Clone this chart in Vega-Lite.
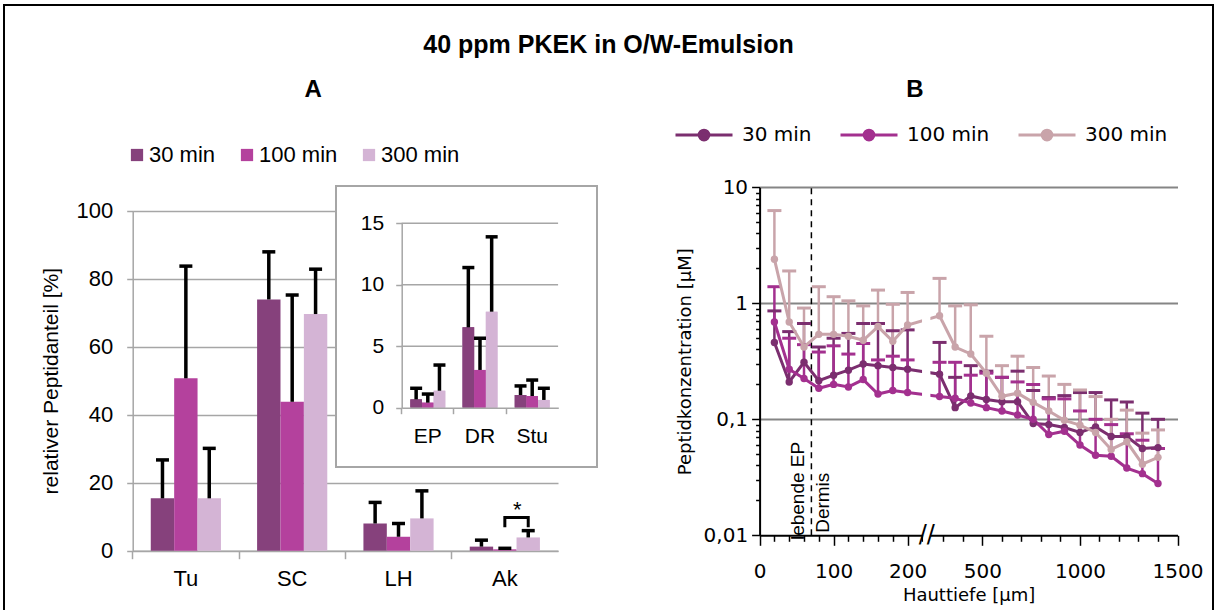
{
  "$schema": "https://vega.github.io/schema/vega-lite/v6.json",
  "width": 1209,
  "height": 610,
  "autosize": {"type": "none"},
  "padding": {"left": 4, "top": 5, "right": 4, "bottom": 0},
  "background": "white",
  "config": {
    "view": {"stroke": "black", "strokeWidth": 2},
    "font": "Liberation Sans",
    "axis": {"labelFont": "Liberation Sans", "titleFont": "Liberation Sans", "labelColor": "black", "titleColor": "black", "titleFontWeight": "normal", "labelOverlap": false, "labelFlush": false}
  },
  "title": {"text": "40 ppm PKEK in O/W-Emulsion", "font": "Liberation Sans", "fontSize": 25, "fontWeight": "bold", "color": "black", "anchor": "middle", "frame": "group", "offset": -53},
  "datasets": {
    "bars": [
      {"c": "Tu", "t": "30 min", "v": 15.4, "e": 26.7},
      {"c": "Tu", "t": "100 min", "v": 50.7, "e": 83.7},
      {"c": "Tu", "t": "300 min", "v": 15.4, "e": 30.1},
      {"c": "SC", "t": "30 min", "v": 73.9, "e": 87.9},
      {"c": "SC", "t": "100 min", "v": 43.8, "e": 75.2},
      {"c": "SC", "t": "300 min", "v": 69.6, "e": 82.8},
      {"c": "LH", "t": "30 min", "v": 8.0, "e": 14.2},
      {"c": "LH", "t": "100 min", "v": 4.1, "e": 8.0},
      {"c": "LH", "t": "300 min", "v": 9.5, "e": 17.6},
      {"c": "Ak", "t": "30 min", "v": 1.2, "e": 3.1},
      {"c": "Ak", "t": "100 min", "v": 0.4, "e": 0.7},
      {"c": "Ak", "t": "300 min", "v": 3.9, "e": 5.9}
    ],
    "inset": [
      {"c": "EP", "t": "30 min", "v": 0.68, "e": 1.58},
      {"c": "EP", "t": "100 min", "v": 0.41, "e": 1.11},
      {"c": "EP", "t": "300 min", "v": 1.38, "e": 3.47},
      {"c": "DR", "t": "30 min", "v": 6.54, "e": 11.4},
      {"c": "DR", "t": "100 min", "v": 3.07, "e": 5.65},
      {"c": "DR", "t": "300 min", "v": 7.81, "e": 13.9},
      {"c": "Stu", "t": "30 min", "v": 1.03, "e": 1.77},
      {"c": "Stu", "t": "100 min", "v": 0.95, "e": 2.25},
      {"c": "Stu", "t": "300 min", "v": 0.63, "e": 1.58}
    ],
    "profile": [
      {"d": 20, "t": "30 min", "v": 0.46, "e": 0.86},
      {"d": 40, "t": "30 min", "v": 0.21, "e": 0.57},
      {"d": 60, "t": "30 min", "v": 0.31, "e": 0.67},
      {"d": 80, "t": "30 min", "v": 0.215, "e": 0.42},
      {"d": 100, "t": "30 min", "v": 0.24, "e": 0.5},
      {"d": 120, "t": "30 min", "v": 0.265, "e": 0.55},
      {"d": 140, "t": "30 min", "v": 0.3, "e": 0.67},
      {"d": 160, "t": "30 min", "v": 0.29, "e": 0.67},
      {"d": 180, "t": "30 min", "v": 0.28, "e": 0.58},
      {"d": 200, "t": "30 min", "v": 0.27, "e": 0.59},
      {"d": 280, "t": "30 min", "v": 0.245, "e": 0.46},
      {"d": 360, "t": "30 min", "v": 0.126, "e": 0.23},
      {"d": 440, "t": "30 min", "v": 0.159, "e": 0.29},
      {"d": 520, "t": "30 min", "v": 0.148, "e": 0.26},
      {"d": 600, "t": "30 min", "v": 0.142, "e": 0.23},
      {"d": 680, "t": "30 min", "v": 0.142, "e": 0.26},
      {"d": 760, "t": "30 min", "v": 0.092, "e": 0.177},
      {"d": 840, "t": "30 min", "v": 0.09, "e": 0.154},
      {"d": 920, "t": "30 min", "v": 0.085, "e": 0.16},
      {"d": 1000, "t": "30 min", "v": 0.077, "e": 0.17},
      {"d": 1080, "t": "30 min", "v": 0.086, "e": 0.17},
      {"d": 1160, "t": "30 min", "v": 0.071, "e": 0.147},
      {"d": 1240, "t": "30 min", "v": 0.071, "e": 0.141},
      {"d": 1320, "t": "30 min", "v": 0.056, "e": 0.113},
      {"d": 1400, "t": "30 min", "v": 0.057, "e": 0.1},
      {"d": 20, "t": "100 min", "v": 0.69, "e": 1.39},
      {"d": 40, "t": "100 min", "v": 0.27, "e": 0.5},
      {"d": 60, "t": "100 min", "v": 0.225, "e": 0.44},
      {"d": 80, "t": "100 min", "v": 0.185, "e": 0.38},
      {"d": 100, "t": "100 min", "v": 0.2, "e": 0.43},
      {"d": 120, "t": "100 min", "v": 0.19, "e": 0.365},
      {"d": 140, "t": "100 min", "v": 0.22, "e": 0.45},
      {"d": 160, "t": "100 min", "v": 0.165, "e": 0.325},
      {"d": 180, "t": "100 min", "v": 0.177, "e": 0.35},
      {"d": 200, "t": "100 min", "v": 0.17, "e": 0.325},
      {"d": 280, "t": "100 min", "v": 0.157, "e": 0.31},
      {"d": 360, "t": "100 min", "v": 0.152, "e": 0.31},
      {"d": 440, "t": "100 min", "v": 0.138, "e": 0.24},
      {"d": 520, "t": "100 min", "v": 0.126, "e": 0.25},
      {"d": 600, "t": "100 min", "v": 0.118, "e": 0.23},
      {"d": 680, "t": "100 min", "v": 0.109, "e": 0.21},
      {"d": 760, "t": "100 min", "v": 0.1, "e": 0.2},
      {"d": 840, "t": "100 min", "v": 0.074, "e": 0.15},
      {"d": 920, "t": "100 min", "v": 0.079, "e": 0.15},
      {"d": 1000, "t": "100 min", "v": 0.06, "e": 0.118},
      {"d": 1080, "t": "100 min", "v": 0.049, "e": 0.1},
      {"d": 1160, "t": "100 min", "v": 0.048, "e": 0.09},
      {"d": 1240, "t": "100 min", "v": 0.038, "e": 0.075},
      {"d": 1320, "t": "100 min", "v": 0.034, "e": 0.066},
      {"d": 1400, "t": "100 min", "v": 0.028, "e": 0.056},
      {"d": 20, "t": "300 min", "v": 2.4, "e": 6.3},
      {"d": 40, "t": "300 min", "v": 0.69, "e": 1.9},
      {"d": 60, "t": "300 min", "v": 0.42, "e": 0.91},
      {"d": 80, "t": "300 min", "v": 0.54, "e": 1.39},
      {"d": 100, "t": "300 min", "v": 0.54, "e": 1.14},
      {"d": 120, "t": "300 min", "v": 0.52, "e": 1.05},
      {"d": 140, "t": "300 min", "v": 0.48, "e": 0.95},
      {"d": 160, "t": "300 min", "v": 0.63, "e": 1.3},
      {"d": 180, "t": "300 min", "v": 0.47, "e": 0.98},
      {"d": 200, "t": "300 min", "v": 0.65, "e": 1.24},
      {"d": 280, "t": "300 min", "v": 0.78, "e": 1.64},
      {"d": 360, "t": "300 min", "v": 0.42, "e": 0.95},
      {"d": 440, "t": "300 min", "v": 0.366, "e": 0.97},
      {"d": 520, "t": "300 min", "v": 0.25, "e": 0.52},
      {"d": 600, "t": "300 min", "v": 0.158, "e": 0.29},
      {"d": 680, "t": "300 min", "v": 0.168, "e": 0.35},
      {"d": 760, "t": "300 min", "v": 0.14, "e": 0.28},
      {"d": 840, "t": "300 min", "v": 0.118, "e": 0.236},
      {"d": 920, "t": "300 min", "v": 0.098, "e": 0.2},
      {"d": 1000, "t": "300 min", "v": 0.089, "e": 0.179},
      {"d": 1080, "t": "300 min", "v": 0.077, "e": 0.157},
      {"d": 1160, "t": "300 min", "v": 0.055, "e": 0.1},
      {"d": 1240, "t": "300 min", "v": 0.064, "e": 0.12},
      {"d": 1320, "t": "300 min", "v": 0.041, "e": 0.076},
      {"d": 1400, "t": "300 min", "v": 0.047, "e": 0.081}
    ]
  },
  "resolve": {"scale": {"x": "independent", "y": "independent", "color": "independent", "xOffset": "independent"}},
  "layer": [
    {
      "layer": [
        {
          "data": {"name": "bars"},
          "mark": {"type": "bar"},
          "encoding": {
            "x": {"field": "c", "type": "nominal", "sort": ["Tu", "SC", "LH", "Ak"],
              "scale": {"domain": ["Tu", "SC", "LH", "Ak"], "range": [128.7, 554], "paddingInner": 0.34, "paddingOuter": 0.17},
              "axis": {"orient": "bottom", "offset": -64.3, "bandPosition": -0.2576, "labelOffset": 0, "tickSize": 8, "tickColor": "#a6a6a6", "tickWidth": 1.5, "domainColor": "#a6a6a6", "domainWidth": 1.5, "labelFontSize": 22, "labelPadding": 10, "labelAngle": 0, "title": null, "grid": false}},
            "xOffset": {"field": "t", "type": "nominal", "sort": ["30 min", "100 min", "300 min"], "scale": {"domain": ["30 min", "100 min", "300 min"], "paddingInner": 0, "paddingOuter": 0}},
            "y": {"field": "v", "type": "quantitative",
              "scale": {"domain": [0, 100], "range": [545.7, 205.7], "nice": false},
              "axis": {"orient": "left", "offset": -128.7, "values": [0, 20, 40, 60, 80, 100], "grid": true, "gridColor": "#a6a6a6", "gridWidth": 1.5, "domainColor": "#a6a6a6", "domainWidth": 1.5, "tickColor": "#a6a6a6", "tickSize": 6, "tickWidth": 1.5, "labelFontSize": 22, "labelPadding": 14, "title": "relativer Peptidanteil [%]", "titleFontSize": 21, "titlePadding": 14}},
            "color": {"field": "t", "type": "nominal", "sort": ["30 min", "100 min", "300 min"],
              "scale": {"domain": ["30 min", "100 min", "300 min"], "range": ["#86417c", "#b4419d", "#d4b4d5"]},
              "legend": {"orient": "none", "legendX": 122, "legendY": 139, "direction": "horizontal", "title": null, "symbolType": "square", "symbolSize": 150, "symbolStrokeWidth": 0, "labelFont": "Liberation Sans", "labelFontSize": 22, "labelColor": "black", "labelOffset": 1, "columnPadding": 20}}
          }
        },
        {
          "data": {"name": "bars"},
          "mark": {"type": "rule", "color": "black", "strokeWidth": 3.5},
          "encoding": {
            "x": {"field": "c", "type": "nominal"},
            "xOffset": {"field": "t", "type": "nominal"},
            "y": {"field": "v", "type": "quantitative"},
            "y2": {"field": "e"}
          }
        },
        {
          "data": {"name": "bars"},
          "mark": {"type": "tick", "color": "black", "thickness": 3.5, "size": 13, "opacity": 1},
          "encoding": {
            "x": {"field": "c", "type": "nominal"},
            "xOffset": {"field": "t", "type": "nominal"},
            "y": {"field": "e", "type": "quantitative"}
          }
        },
        {
          "data": {"values": [
            {"c": "Ak", "t": "100 min", "y": 6.9, "o": 1},
            {"c": "Ak", "t": "100 min", "y": 9.8, "o": 2},
            {"c": "Ak", "t": "300 min", "y": 9.8, "o": 3},
            {"c": "Ak", "t": "300 min", "y": 6.9, "o": 4}
          ]},
          "mark": {"type": "line", "color": "black", "strokeWidth": 3},
          "encoding": {
            "x": {"field": "c", "type": "nominal"},
            "xOffset": {"field": "t", "type": "nominal"},
            "y": {"field": "y", "type": "quantitative"},
            "order": {"field": "o"}
          }
        },
        {
          "data": {"values": [{"c": "Ak", "t": "300 min", "y": 12.0, "s": "*"}]},
          "mark": {"type": "text", "fontSize": 22, "font": "Liberation Sans", "color": "black", "dx": -11, "baseline": "middle"},
          "encoding": {
            "x": {"field": "c", "type": "nominal"},
            "xOffset": {"field": "t", "type": "nominal"},
            "y": {"field": "y", "type": "quantitative"},
            "text": {"field": "s"}
          }
        },
        {
          "data": {"values": [{"c": "SC", "y": 135.5, "s": "A"}]},
          "mark": {"type": "text", "fontSize": 24, "fontWeight": "bold", "font": "Liberation Sans", "color": "black", "dx": 21, "baseline": "middle"},
          "encoding": {
            "x": {"field": "c", "type": "nominal"},
            "y": {"field": "y", "type": "quantitative"},
            "text": {"field": "s"}
          }
        }
      ]
    },
    {
      "data": {"values": [{"f": "frame"}]},
      "mark": {"type": "rect", "fill": "white", "stroke": "#a6a6a6", "strokeWidth": 2},
      "encoding": {
        "x": {"datum": 0, "type": "quantitative", "scale": {"domain": [0, 1], "range": [332, 593], "nice": false, "zero": false}, "axis": null},
        "x2": {"datum": 1},
        "y": {"datum": 0, "type": "quantitative", "scale": {"domain": [0, 1], "range": [462, 181], "nice": false, "zero": false}, "axis": null},
        "y2": {"datum": 1}
      }
    },
    {
      "layer": [
        {
          "data": {"name": "inset"},
          "mark": {"type": "bar"},
          "encoding": {
            "x": {"field": "c", "type": "nominal", "sort": ["EP", "DR", "Stu"],
              "scale": {"domain": ["EP", "DR", "Stu"], "range": [397.7, 554.3], "paddingInner": 0.33, "paddingOuter": 0.165},
              "axis": {"orient": "bottom", "offset": -207.3, "zindex": 1, "bandPosition": -0.2463, "labelOffset": 0, "tickSize": 6, "tickColor": "#a6a6a6", "tickWidth": 1.5, "domainColor": "#a6a6a6", "domainWidth": 1.5, "labelFontSize": 21, "labelPadding": 12, "labelAngle": 0, "title": null, "grid": false}},
            "xOffset": {"field": "t", "type": "nominal", "sort": ["30 min", "100 min", "300 min"], "scale": {"domain": ["30 min", "100 min", "300 min"], "paddingInner": 0, "paddingOuter": 0}},
            "y": {"field": "v", "type": "quantitative",
              "scale": {"domain": [0, 15], "range": [402.7, 218.3], "nice": false},
              "axis": {"orient": "left", "offset": -397.7, "zindex": 1, "values": [0, 5, 10, 15], "grid": false, "domainColor": "#a6a6a6", "domainWidth": 1.5, "tickColor": "#a6a6a6", "tickSize": 6, "tickWidth": 1.5, "labelFontSize": 21, "labelPadding": 12, "title": null}},
            "color": {"field": "t", "type": "nominal", "sort": ["30 min", "100 min", "300 min"],
              "scale": {"domain": ["30 min", "100 min", "300 min"], "range": ["#86417c", "#b4419d", "#d4b4d5"]},
              "legend": null}
          }
        },
        {
          "data": {"values": [{"g": 5}, {"g": 10}, {"g": 15}]},
          "mark": {"type": "rule", "color": "#a6a6a6", "strokeWidth": 1.5},
          "encoding": {
            "x": {"datum": "EP", "type": "nominal", "bandPosition": -0.2463},
            "x2": {"datum": "Stu", "bandPosition": 1.24},
            "y": {"field": "g", "type": "quantitative"}
          }
        },
        {
          "data": {"name": "inset"},
          "mark": {"type": "bar"},
          "encoding": {
            "x": {"field": "c", "type": "nominal"},
            "xOffset": {"field": "t", "type": "nominal"},
            "y": {"field": "v", "type": "quantitative"},
            "color": {"field": "t", "type": "nominal", "legend": null}
          }
        },
        {
          "data": {"name": "inset"},
          "mark": {"type": "rule", "color": "black", "strokeWidth": 3.5},
          "encoding": {
            "x": {"field": "c", "type": "nominal"},
            "xOffset": {"field": "t", "type": "nominal"},
            "y": {"field": "v", "type": "quantitative"},
            "y2": {"field": "e"}
          }
        },
        {
          "data": {"name": "inset"},
          "mark": {"type": "tick", "color": "black", "thickness": 3.5, "size": 12, "opacity": 1},
          "encoding": {
            "x": {"field": "c", "type": "nominal"},
            "xOffset": {"field": "t", "type": "nominal"},
            "y": {"field": "e", "type": "quantitative"}
          }
        }
      ]
    },
    {
      "layer": [
        {
          "data": {"values": [{"k": "dermis"}]},
          "mark": {"type": "rule", "color": "black", "strokeWidth": 1.5, "strokeDash": [6, 5]},
          "encoding": {
            "x": {"datum": 70, "type": "quantitative"},
            "y": {"datum": 0.01, "type": "quantitative"},
            "y2": {"datum": 10}
          }
        },
        {
          "data": {"name": "profile"},
          "mark": {"type": "rule", "strokeWidth": 2.5},
          "encoding": {
            "x": {"field": "d", "type": "quantitative"},
            "y": {"field": "v", "type": "quantitative"},
            "y2": {"field": "e"},
            "color": {"field": "t", "type": "nominal"}
          }
        },
        {
          "data": {"name": "profile"},
          "mark": {"type": "tick", "orient": "horizontal", "thickness": 3, "size": 14, "opacity": 1},
          "encoding": {
            "x": {"field": "d", "type": "quantitative"},
            "y": {"field": "e", "type": "quantitative"},
            "color": {"field": "t", "type": "nominal"}
          }
        },
        {
          "data": {"name": "profile"},
          "mark": {"type": "line", "strokeWidth": 3},
          "encoding": {
            "x": {"field": "d", "type": "quantitative",
              "scale": {"domain": [0, 230, 1500], "range": [755.6, 925.8, 1173.5], "nice": false, "zero": false},
              "axis": {"orient": "bottom", "offset": -79.7, "values": [0, 20, 40, 60, 80, 100, 120, 140, 160, 180, 200, 220, 300, 400, 500, 600, 700, 800, 900, 1000, 1100, 1200, 1300, 1400, 1500],
                "labelExpr": "indexof([0, 100, 200, 500, 1000, 1500], datum.value) >= 0 ? format(datum.value, 'd') : ''",
                "tickSize": {"condition": {"test": "indexof([0, 100, 200, 500, 1000, 1500], datum.value) >= 0", "value": 10}, "value": 6},
                "tickColor": "black", "tickWidth": 1.5, "domainColor": "black", "domainWidth": 2, "grid": false,
                "labelFont": "DejaVu Sans", "labelFontSize": 20, "labelPadding": 16,
                "title": "Hauttiefe [µm]", "titleFont": "DejaVu Sans", "titleFontSize": 18, "titlePadding": 5}},
            "y": {"field": "v", "type": "quantitative",
              "scale": {"type": "log", "domain": [0.01, 10], "range": [530.3, 182.3], "nice": false},
              "axis": {"orient": "left", "offset": -755.6, "values": [0.01, 0.02, 0.03, 0.04, 0.05, 0.06, 0.07, 0.08, 0.09, 0.1, 0.2, 0.3, 0.4, 0.5, 0.6, 0.7, 0.8, 0.9, 1, 2, 3, 4, 5, 6, 7, 8, 9, 10],
                "labelExpr": "datum.value == 0.01 ? '0,01' : datum.value == 0.1 ? '0,1' : datum.value == 1 ? '1' : datum.value == 10 ? '10' : ''",
                "tickSize": {"condition": {"test": "datum.value == 0.01 || datum.value == 0.1 || datum.value == 1 || datum.value == 10", "value": 8}, "value": 4},
                "tickColor": "black", "tickWidth": 1.5, "domainColor": "black", "domainWidth": 2,
                "grid": true, "gridWidth": 2,
                "gridColor": {"condition": {"test": "datum.value == 0.1 || datum.value == 1 || datum.value == 10", "value": "#858585"}, "value": "rgba(0,0,0,0)"},
                "labelFont": "DejaVu Sans", "labelFontSize": 20, "labelPadding": 4,
                "title": "Peptidkonzentration [µM]", "titleFont": "DejaVu Sans", "titleFontSize": 18, "titlePadding": 9}},
            "color": {"field": "t", "type": "nominal", "sort": ["30 min", "100 min", "300 min"],
              "scale": {"domain": ["30 min", "100 min", "300 min"], "range": ["#7b2e6f", "#a3308f", "#c9a4aa"]},
              "legend": {"orient": "none", "legendX": 670, "legendY": 100, "direction": "horizontal", "title": null,
                "symbolType": "M-1,0L1,0M0.17,0A0.17,0.17,0,1,1,-0.17,0A0.17,0.17,0,1,1,0.17,0Z",
                "symbolSize": 3249, "symbolStrokeWidth": 3,
                "labelFont": "DejaVu Sans", "labelFontSize": 20, "labelColor": "black", "labelOffset": 8, "columnPadding": 22,
                "encode": {"symbols": {"update": {
                  "fill": {"signal": "datum.value === '30 min' ? '#7b2e6f' : datum.value === '100 min' ? '#a3308f' : '#c9a4aa'"},
                  "stroke": {"signal": "datum.value === '30 min' ? '#7b2e6f' : datum.value === '100 min' ? '#a3308f' : '#c9a4aa'"}
                }}}}}
          }
        },
        {
          "data": {"name": "profile"},
          "mark": {"type": "circle", "size": 55, "opacity": 1},
          "encoding": {
            "x": {"field": "d", "type": "quantitative"},
            "y": {"field": "v", "type": "quantitative"},
            "color": {"field": "t", "type": "nominal"}
          }
        },
        {
          "data": {"values": [{"k": "gap"}]},
          "mark": {"type": "rect", "fill": "white"},
          "encoding": {
            "x": {"datum": 219.5, "type": "quantitative"},
            "x2": {"datum": 233},
            "y": {"datum": 0.115, "type": "quantitative"},
            "y2": {"datum": 0.95}
          }
        },
        {
          "data": {"values": [{"k": "axisgap"}]},
          "mark": {"type": "rect", "fill": "white"},
          "encoding": {
            "x": {"datum": 221, "type": "quantitative"},
            "x2": {"datum": 233},
            "y": {"datum": 0.0086, "type": "quantitative"},
            "y2": {"datum": 0.0115}
          }
        },
        {
          "data": {"values": [{"k": "break", "s": "//"}]},
          "mark": {"type": "text", "fontSize": 24, "font": "DejaVu Sans", "color": "black", "align": "center", "baseline": "middle"},
          "encoding": {
            "x": {"datum": 226, "type": "quantitative"},
            "y": {"datum": 0.01, "type": "quantitative"},
            "text": {"field": "s"}
          }
        },
        {
          "data": {"values": [{"s": "lebende EP"}]},
          "mark": {"type": "text", "fontSize": 19, "font": "Liberation Sans", "color": "black", "angle": 270, "align": "left", "baseline": "bottom", "dy": -3},
          "encoding": {
            "x": {"datum": 70, "type": "quantitative"},
            "y": {"datum": 0.0091, "type": "quantitative"},
            "text": {"field": "s"}
          }
        },
        {
          "data": {"values": [{"s": "Dermis"}]},
          "mark": {"type": "text", "fontSize": 19, "font": "Liberation Sans", "color": "black", "angle": 270, "align": "left", "baseline": "top", "dy": 3},
          "encoding": {
            "x": {"datum": 70, "type": "quantitative"},
            "y": {"datum": 0.0105, "type": "quantitative"},
            "text": {"field": "s"}
          }
        },
        {
          "data": {"values": [{"s": "B"}]},
          "mark": {"type": "text", "fontSize": 24, "fontWeight": "bold", "font": "Liberation Sans", "color": "black", "align": "center", "baseline": "middle"},
          "encoding": {
            "x": {"datum": 210, "type": "quantitative"},
            "y": {"datum": 69, "type": "quantitative"},
            "text": {"field": "s"}
          }
        }
      ]
    }
  ]
}
